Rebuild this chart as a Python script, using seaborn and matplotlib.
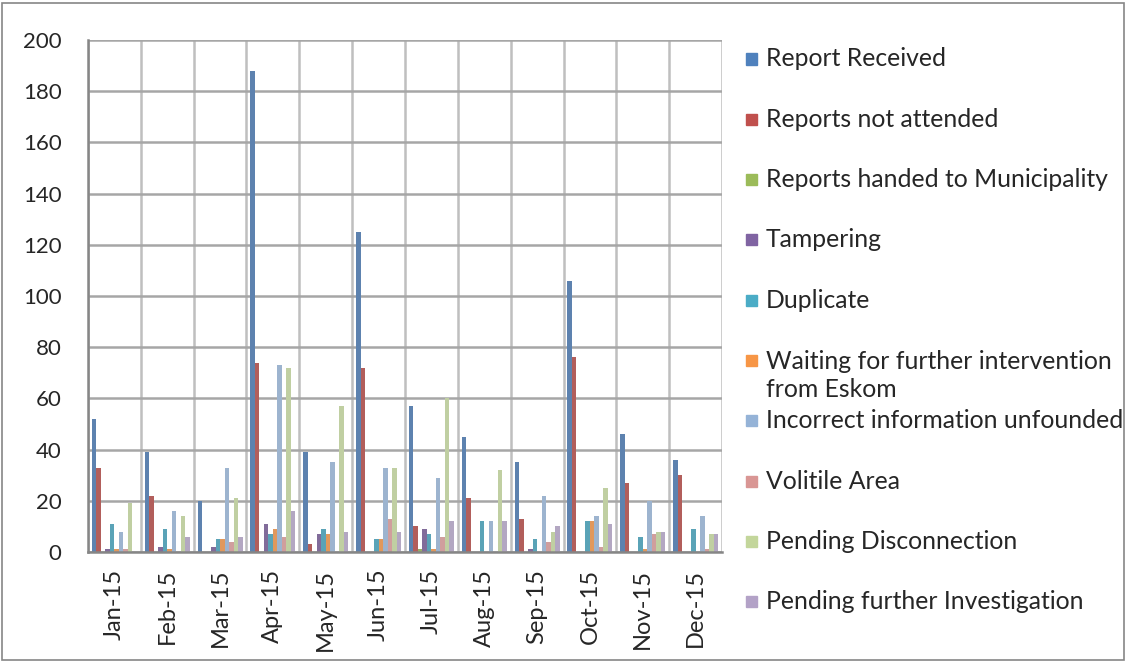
import numpy as np
import pandas as pd
import seaborn as sns
import matplotlib.pyplot as plt
from matplotlib.patches import Rectangle

# ----------------------------------------------------------------
# data
# ----------------------------------------------------------------
months = ['Jan-15', 'Feb-15', 'Mar-15', 'Apr-15', 'May-15', 'Jun-15',
          'Jul-15', 'Aug-15', 'Sep-15', 'Oct-15', 'Nov-15', 'Dec-15']

series = ['Report Received', 'Reports not attended', 'Reports handed to Municipality',
          'Tampering', 'Duplicate', 'Waiting for further intervention\nfrom Eskom',
          'Incorrect information unfounded', 'Volitile Area', 'Pending Disconnection',
          'Pending further Investigation']

report_received = [52, 39, 20, 188, 39, 125, 57, 45, 35, 106, 46, 36]
not_attended = [33, 22, 0, 74, 3, 72, 10, 21, 13, 76, 27, 30]
handed_municipality = [0, 0, 0, 0, 0, 0, 1, 0, 0, 0, 0, 0]
tampering = [1, 2, 2, 11, 7, 0, 9, 0, 1, 0, 0, 0]
duplicate = [11, 9, 5, 7, 9, 5, 7, 12, 5, 12, 6, 9]
waiting_eskom = [1, 1, 5, 9, 7, 5, 1, 0, 0, 12, 1, 0]
incorrect_info = [8, 16, 33, 73, 35, 33, 29, 12, 22, 14, 20, 14]
volitile_area = [1, 0, 4, 6, 0, 13, 6, 0, 4, 2, 7, 1]
pending_disconnection = [19, 14, 21, 72, 57, 33, 60, 32, 8, 25, 8, 7]
pending_investigation = [0, 6, 6, 16, 8, 8, 12, 12, 10, 11, 8, 7]

values = [report_received, not_attended, handed_municipality, tampering, duplicate,
          waiting_eskom, incorrect_info, volitile_area, pending_disconnection,
          pending_investigation]

colors = ['#4F81BD', '#C0504D', '#9BBB59', '#8064A2', '#4BACC6',
          '#F79646', '#95B3D7', '#D99694', '#C3D69B', '#B3A2C7']

rows = []
for s, vals in zip(series, values):
    for m, v in zip(months, vals):
        rows.append({'month': m, 'series': s, 'value': v})
df = pd.DataFrame(rows)

# ----------------------------------------------------------------
sns.set_style('white')
plt.rcParams['font.family'] = ['Lato', 'DejaVu Sans']

fig = plt.figure(figsize=(11.27, 6.62), dpi=100)
ax = fig.add_axes([88 / 1127, 110 / 662, 634 / 1127, 512 / 662])

sns.barplot(data=df, x='month', y='value', hue='series', order=months,
            hue_order=series, palette=colors, width=0.85, linewidth=0,
            legend=False, ax=ax)

ax.set_xlim(-0.5, 11.5)
ax.set_ylim(0, 200)
ax.set_yticks(np.arange(0, 201, 20))
ax.set_xticks(np.arange(-0.5, 12, 1), minor=True)
ax.set_xticks(np.arange(12))
ax.set_xticklabels(months, rotation=90, fontsize=17)
ax.tick_params(axis='x', which='major', length=0, pad=12)
ax.tick_params(axis='x', which='minor', length=7, color='#868686', width=1.5)
ax.tick_params(axis='y', length=6, color='#868686', width=1.5, labelsize=16, pad=13)
ax.set_xlabel('')
ax.set_ylabel('')

ax.grid(axis='y', color='#A6A6A6', linewidth=1.8)
ax.grid(axis='x', which='minor', color='#BFBFBF', linewidth=1.8)
ax.set_axisbelow(True)
for side in ['top', 'right']:
    ax.spines[side].set_visible(False)
for side in ['left', 'bottom']:
    ax.spines[side].set_color('#868686')
    ax.spines[side].set_linewidth(1.8)

# legend drawn as Excel lays it out: evenly spaced entries
for i, (s, c) in enumerate(zip(series, colors)):
    yc = 59 + i * 60.3
    fig.patches.append(Rectangle((746 / 1127, (662 - yc - 5.5) / 662), 11 / 1127, 11 / 662,
                                 transform=fig.transFigure, color=c))
    nl = s.count('\n')
    fig.text(766 / 1127, (662 - yc - 15 * nl) / 662, s, fontsize=17.8, va='center',
             ha='left', linespacing=1.22)

# chart border
fig.patches.append(Rectangle((2 / 1127, 2 / 662), 1122 / 1127, 657 / 662,
                             transform=fig.transFigure, fill=False,
                             edgecolor='#868686', linewidth=1.2))

fig.savefig('out.png', dpi=100)
